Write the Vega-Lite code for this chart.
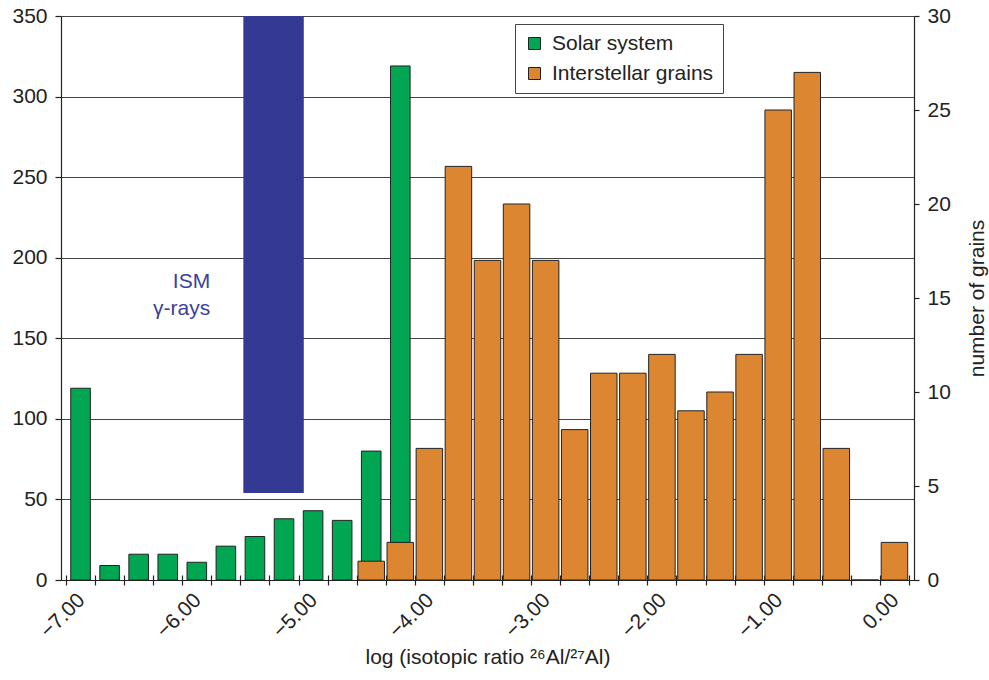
{
  "$schema": "https://vega.github.io/schema/vega-lite/v6.json",
  "width": 853,
  "height": 564,
  "autosize": {"type": "none"},
  "padding": {"left": 61, "top": 16, "right": 75, "bottom": 100},
  "background": "white",
  "config": {
    "font": "Liberation Sans",
    "view": {"stroke": null},
    "axis": {"labelColor": "#222", "titleColor": "#222", "titleFontWeight": "normal", "domainColor": "#222", "tickColor": "#222", "labelFontSize": 21, "titleFontSize": 21, "domainWidth": 1.2, "tickWidth": 1.2},
    "legend": {"orient": "none", "legendX": 454, "legendY": 8, "symbolType": "square", "symbolSize": 144, "symbolStrokeColor": "#222", "symbolStrokeWidth": 1, "symbolOpacity": 1, "labelFontSize": 21, "labelColor": "#222", "labelOffset": 7, "rowPadding": 8, "padding": 9, "strokeColor": "#444", "fillColor": "white", "labelLimit": 400}
  },
  "datasets": {
    "solar": [
      {"log": -7.0, "v": 119},
      {"log": -6.75, "v": 9},
      {"log": -6.5, "v": 16},
      {"log": -6.25, "v": 16},
      {"log": -6.0, "v": 11},
      {"log": -5.75, "v": 21},
      {"log": -5.5, "v": 27},
      {"log": -5.25, "v": 38},
      {"log": -5.0, "v": 43},
      {"log": -4.75, "v": 37},
      {"log": -4.5, "v": 80},
      {"log": -4.25, "v": 319}
    ],
    "grains": [
      {"log": -4.5, "grains": 1},
      {"log": -4.25, "grains": 2},
      {"log": -4.0, "grains": 7},
      {"log": -3.75, "grains": 22},
      {"log": -3.5, "grains": 17},
      {"log": -3.25, "grains": 20},
      {"log": -3.0, "grains": 17},
      {"log": -2.75, "grains": 8},
      {"log": -2.5, "grains": 11},
      {"log": -2.25, "grains": 11},
      {"log": -2.0, "grains": 12},
      {"log": -1.75, "grains": 9},
      {"log": -1.5, "grains": 10},
      {"log": -1.25, "grains": 12},
      {"log": -1.0, "grains": 25},
      {"log": -0.75, "grains": 27},
      {"log": -0.5, "grains": 7},
      {"log": -0.25, "grains": 0},
      {"log": 0.0, "grains": 2}
    ],
    "ism": [
      {"log": -5.6, "log2": -5.08, "v": 350, "v2": 54}
    ],
    "ismlabel": [
      {"log": -5.885, "v": 181, "label": "ISM\nγ-rays"}
    ]
  },
  "layer": [
    {
      "encoding": {
        "x": {
          "field": "log",
          "type": "quantitative",
          "scale": {"domain": [-7.125, 0.125], "nice": false, "zero": false},
          "axis": {
            "orient": "bottom",
            "values": [-7, -6, -5, -4, -3, -2, -1, 0],
            "format": ".2f",
            "labelAngle": -45,
            "ticks": false,
            "tickSize": 0,
            "domain": true,
            "grid": false,
            "labelPadding": 9,
            "labelOffset": -7,
            "labelFlush": false,
            "labelOverlap": false,
            "labelBound": false,
            "title": "log (isotopic ratio ²⁶Al/²⁷Al)",
            "titleY": 83,
            "titleBaseline": "alphabetic"
          }
        },
        "y": {
          "field": "v",
          "type": "quantitative",
          "scale": {"domain": [0, 350], "nice": false},
          "axis": {"values": [0, 50, 100, 150, 200, 250, 300, 350], "tickSize": 6, "labelPadding": 8, "grid": true, "gridColor": "#444", "gridWidth": 1, "title": null}
        }
      },
      "layer": [
        {
          "data": {"name": "ism"},
          "mark": {"type": "bar", "color": "#343a94"},
          "encoding": {
            "x2": {"field": "log2"},
            "y2": {"field": "v2"}
          }
        },
        {
          "data": {"name": "solar"},
          "mark": {"type": "bar", "width": 19.6, "stroke": "#222", "strokeWidth": 1},
          "encoding": {
            "color": {
              "datum": "Solar system",
              "type": "nominal",
              "scale": {"domain": ["Solar system", "Interstellar grains"], "range": ["#00a651", "#dc8632"]},
              "legend": {"title": null}
            }
          }
        },
        {
          "data": {"name": "ismlabel"},
          "mark": {"type": "text", "align": "right", "baseline": "alphabetic", "fontSize": 21, "color": "#3b3f9c", "lineBreak": "\n", "lineHeight": 27},
          "encoding": {
            "text": {"field": "label"}
          }
        }
      ]
    },
    {
      "data": {"name": "grains"},
      "mark": {"type": "bar", "width": 26.5, "stroke": "#222", "strokeWidth": 1},
      "encoding": {
        "x": {
          "field": "log",
          "type": "quantitative",
          "axis": {
            "orient": "bottom",
            "values": [-7.125, -6.875, -6.625, -6.375, -6.125, -5.875, -5.625, -5.375, -5.125, -4.875, -4.625, -4.375, -4.125, -3.875, -3.625, -3.375, -3.125, -2.875, -2.625, -2.375, -2.125, -1.875, -1.625, -1.375, -1.125, -0.875, -0.625, -0.375, -0.125, 0.125],
            "labels": false,
            "tickSize": 10,
            "offset": -5,
            "domain": false,
            "grid": false,
            "title": null
          }
        },
        "y": {
          "field": "grains",
          "type": "quantitative",
          "scale": {"domain": [0, 30], "nice": false},
          "axis": {"orient": "right", "values": [0, 5, 10, 15, 20, 25, 30], "tickSize": 5, "labelPadding": 8, "grid": false, "title": "number of grains", "titleAngle": 270, "titleBaseline": "alphabetic", "titleAlign": "center", "titleX": 69, "titleY": 282}
        },
        "color": {"datum": "Interstellar grains", "type": "nominal"}
      }
    }
  ],
  "resolve": {"scale": {"y": "independent"}, "axis": {"x": "independent"}}
}
